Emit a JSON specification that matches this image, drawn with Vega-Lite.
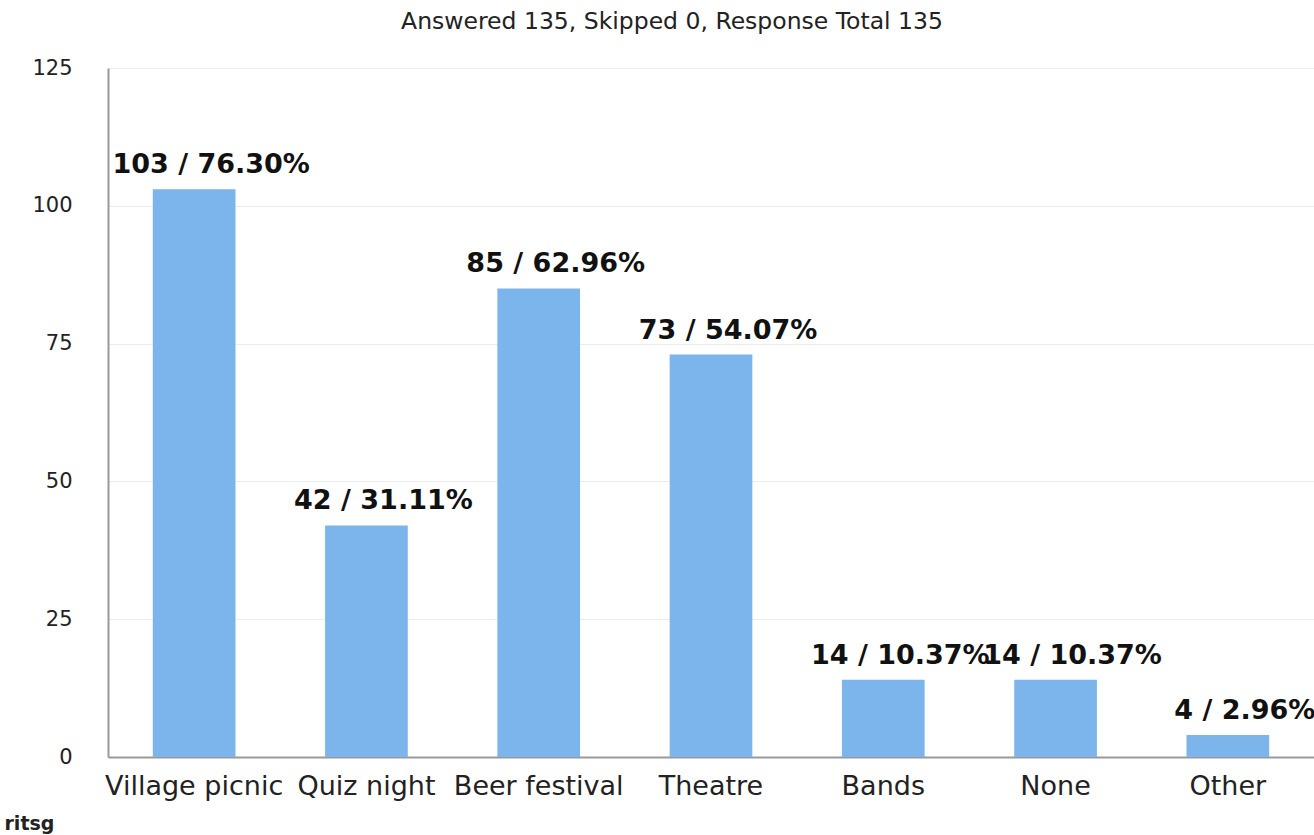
{
  "$schema": "https://vega.github.io/schema/vega-lite/v6.json",
  "autosize": "none",
  "width": 1206,
  "height": 689,
  "padding": {"left": 108, "top": 68, "right": 0, "bottom": 78},
  "background": "white",
  "title": {
    "text": "Answered 135, Skipped 0, Response Total 135",
    "fontSize": 23.5,
    "font": "DejaVu Sans",
    "fontWeight": "normal",
    "color": "#222",
    "anchor": "middle",
    "dx": -39,
    "offset": 24
  },
  "data": {
    "values": [
      {"option": "Village picnic", "count": 103, "label": "103 / 76.30%"},
      {"option": "Quiz night", "count": 42, "label": "42 / 31.11%"},
      {"option": "Beer festival", "count": 85, "label": "85 / 62.96%"},
      {"option": "Theatre", "count": 73, "label": "73 / 54.07%"},
      {"option": "Bands", "count": 14, "label": "14 / 10.37%"},
      {"option": "None", "count": 14, "label": "14 / 10.37%"},
      {"option": "Other", "count": 4, "label": "4 / 2.96%"}
    ]
  },
  "encoding": {
    "x": {
      "field": "option",
      "type": "nominal",
      "sort": null,
      "scale": {"paddingInner": 0.52, "paddingOuter": 0.26},
      "axis": {
        "title": "ritsg",
        "titleFont": "DejaVu Sans",
        "titleFontSize": 19,
        "titleFontWeight": "bold",
        "titleColor": "#222",
        "titleAnchor": "start",
        "titleAlign": "left",
        "titleBaseline": "bottom",
        "titleX": -104,
        "titleY": 76,
        "labelAngle": 0,
        "labelFont": "DejaVu Sans",
        "labelFontSize": 27,
        "labelColor": "#222",
        "labelPadding": 16,
        "ticks": false,
        "domainColor": "#999",
        "domainWidth": 2,
        "labelLimit": 300
      }
    },
    "y": {
      "field": "count",
      "type": "quantitative",
      "scale": {"domain": [0, 125], "nice": false},
      "axis": {
        "title": null,
        "values": [0, 25, 50, 75, 100, 125],
        "labelFont": "DejaVu Sans",
        "labelFontSize": 21,
        "labelColor": "#222",
        "labelPadding": 36,
        "ticks": false,
        "domainColor": "#999",
        "domainWidth": 2,
        "gridColor": "#ececec",
        "gridWidth": 1
      }
    }
  },
  "layer": [
    {"mark": {"type": "bar", "color": "#7cb5ec"}},
    {
      "mark": {
        "type": "text",
        "font": "DejaVu Sans",
        "fontWeight": "bold",
        "fontSize": 27,
        "color": "#111",
        "baseline": "bottom",
        "dx": 17,
        "dy": -10
      },
      "encoding": {"text": {"field": "label"}}
    }
  ],
  "config": {"view": {"stroke": null}}
}
